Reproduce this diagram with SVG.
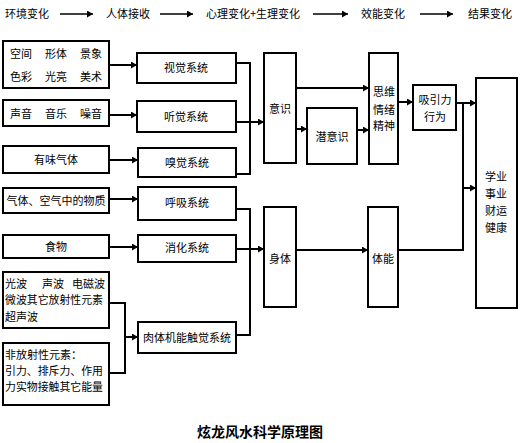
<svg xmlns="http://www.w3.org/2000/svg" width="520" height="443" viewBox="0 0 520 443">
<style>
text{font-family:"Noto Sans CJK SC","Liberation Sans",sans-serif;font-size:11px;fill:#000}
.c{text-anchor:middle}
.box{fill:#fff;stroke:#000;stroke-width:2}
.ln{fill:none;stroke:#000;stroke-width:2}
.ar{fill:none;stroke:#000;stroke-width:2;marker-end:url(#ah)}
.har{fill:none;stroke:#000;stroke-width:1.5;marker-end:url(#ah)}
.title{font-size:14px;font-weight:bold;text-anchor:middle}
</style>
<defs>
<marker id="ah" markerUnits="userSpaceOnUse" markerWidth="7" markerHeight="8" refX="6" refY="3.5" orient="auto">
<path d="M0,0 L6,3.5 L0,7 z" fill="#000"/>
</marker>
</defs>
<rect width="520" height="443" fill="#fff"/>
<g id="header">
<text class="c" x="27" y="18">环境变化</text>
<text class="c" x="128" y="18">人体接收</text>
<text class="c" x="253" y="18">心理变化+生理变化</text>
<text class="c" x="383" y="18">效能变化</text>
<text class="c" x="490" y="18">结果变化</text>
<path class="har" d="M60,14 H93"/>
<path class="har" d="M160,14 H193"/>
<path class="har" d="M313,14 H348"/>
<path class="har" d="M420,14 H453"/>
</g>
<g id="connectors">
<path class="ar" d="M109,65 H137"/>
<path class="ar" d="M109,115 H137"/>
<path class="ar" d="M109,160 H138"/>
<path class="ln" d="M236,63 H250 V174 H236"/>
<path class="ar" d="M236,122 H264"/>
<path class="ar" d="M296,88 H369"/>
<path class="ar" d="M296,129 H307"/>
<path class="ar" d="M357,130 H369"/>
<path class="ar" d="M398,102 H413"/>
<path class="ar" d="M456,103 H476"/>
<path class="ln" d="M463,103 V250 H398"/>
<path class="ar" d="M463,188 H476"/>
<path class="ar" d="M109,199 H138"/>
<path class="ar" d="M109,247 H138"/>
<path class="ln" d="M236,209 H250 V335 H236"/>
<path class="ar" d="M236,249 H264"/>
<path class="ar" d="M296,250 H368"/>
<path class="ln" d="M109,303 H125 V373 H109"/>
<path class="ar" d="M125,337 H138"/>
</g>
<g id="n-visual-src"><rect class="box" x="3" y="41" width="106" height="47"/>
<text class="c" x="21" y="58">空间</text><text class="c" x="56" y="58">形体</text><text class="c" x="91" y="58">景象</text>
<text class="c" x="21" y="81">色彩</text><text class="c" x="56" y="81">光亮</text><text class="c" x="91" y="81">美术</text></g>
<g id="n-sound-src"><rect class="box" x="3" y="100" width="106" height="26"/>
<text class="c" x="21" y="118">声音</text><text class="c" x="56" y="118">音乐</text><text class="c" x="91" y="118">噪音</text></g>
<g id="n-smell-src"><rect class="box" x="3" y="146" width="106" height="27"/><text class="c" x="56" y="164">有味气体</text></g>
<g id="n-visual"><rect class="box" x="137" y="53" width="99" height="30"/><text class="c" x="186" y="72">视觉系统</text></g>
<g id="n-hearing"><rect class="box" x="137" y="101" width="99" height="31"/><text class="c" x="186" y="121">听觉系统</text></g>
<g id="n-smell"><rect class="box" x="138" y="148" width="98" height="29"/><text class="c" x="187" y="167">嗅觉系统</text></g>
<g id="n-conscious"><rect class="box" x="264" y="53" width="32" height="110"/><text class="c" x="280" y="113">意识</text></g>
<g id="n-subconscious"><rect class="box" x="307" y="108" width="50" height="56"/><text class="c" x="332" y="141">潜意识</text></g>
<g id="n-mind"><rect class="box" x="369" y="53" width="29" height="111"/>
<text class="c" x="384" y="96">思维</text><text class="c" x="384" y="114">情绪</text><text class="c" x="384" y="130">精神</text></g>
<g id="n-attract"><rect class="box" x="413" y="85" width="43" height="45"/>
<text class="c" x="435" y="104">吸引力</text><text class="c" x="435" y="121">行为</text></g>
<g id="n-result"><rect class="box" x="476" y="78" width="41" height="230"/>
<text class="c" x="496" y="181">学业</text><text class="c" x="496" y="198">事业</text><text class="c" x="496" y="215">财运</text><text class="c" x="496" y="232">健康</text></g>
<g id="n-air"><rect class="box" x="3" y="188" width="106" height="25"/><text class="c" x="56" y="205">气体、空气中的物质</text></g>
<g id="n-breath"><rect class="box" x="138" y="187" width="98" height="33"/><text class="c" x="187" y="207">呼吸系统</text></g>
<g id="n-food"><rect class="box" x="3" y="235" width="106" height="23"/><text class="c" x="56" y="251">食物</text></g>
<g id="n-digest"><rect class="box" x="138" y="235" width="98" height="27"/><text class="c" x="187" y="252">消化系统</text></g>
<g id="n-body"><rect class="box" x="264" y="207" width="32" height="100"/><text class="c" x="280" y="263">身体</text></g>
<g id="n-energy"><rect class="box" x="368" y="207" width="30" height="100"/><text class="c" x="383" y="263">体能</text></g>
<g id="n-wave"><rect class="box" x="3" y="272" width="106" height="56"/>
<text x="5" y="288">光波</text><text x="42" y="288">声波</text><text x="72" y="288">电磁波</text>
<text x="5" y="304" textLength="98" lengthAdjust="spacingAndGlyphs">微波其它放射性元素</text>
<text x="5" y="321">超声波</text></g>
<g id="n-nonrad"><rect class="box" x="3" y="343" width="106" height="62"/>
<text x="5" y="359">非放射性元素：</text>
<text x="5" y="375" textLength="98" lengthAdjust="spacingAndGlyphs">引力、排斥力、作用</text>
<text x="5" y="391" textLength="98" lengthAdjust="spacingAndGlyphs">力实物接触其它能量</text></g>
<g id="n-touch"><rect class="box" x="138" y="322" width="98" height="31"/><text class="c" x="187" y="342">肉体机能触觉系统</text></g>
<text class="title" x="260" y="437">炫龙风水科学原理图</text>
</svg>
